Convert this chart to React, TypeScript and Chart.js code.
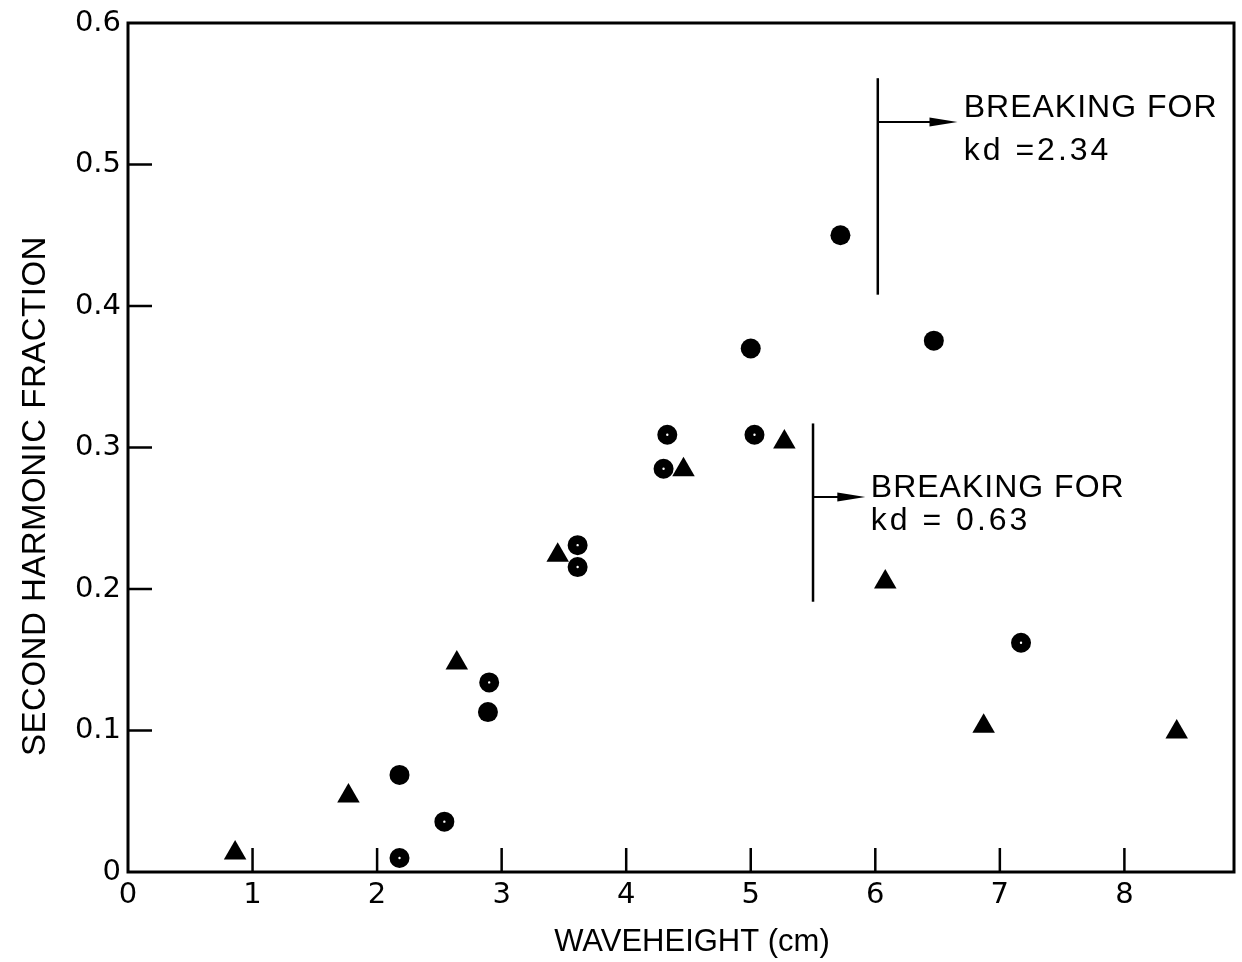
import React, { useEffect, useRef } from "react";
import { Chart, registerables } from "chart.js";

Chart.register(...registerables);

// ---- data ----
const SOLID_CIRCLES_X = [5.72, 6.47, 5.0, 2.89, 2.18];
const SOLID_CIRCLES_Y = [0.45, 0.3755, 0.37, 0.113, 0.0686];

const DOTTED_CIRCLES_X = [4.33, 4.3, 5.03, 3.61, 3.61, 2.9, 2.54, 2.18, 7.17];
const DOTTED_CIRCLES_Y = [0.309, 0.285, 0.309, 0.231, 0.2155, 0.134, 0.0356, 0.0099, 0.162];

const TRIANGLES_X = [0.86, 1.77, 2.64, 3.45, 4.46, 5.27, 6.08, 6.87, 8.42];
const TRIANGLES_Y = [0.0134, 0.0537, 0.1477, 0.2238, 0.2843, 0.3039, 0.205, 0.103, 0.099];

const X_TICKS = [0, 1, 2, 3, 4, 5, 6, 7, 8];
const X_TICK_LABELS = ["0", "1", "2", "3", "4", "5", "6", "7", "8"];
const Y_TICKS = [0, 0.1, 0.2, 0.3, 0.4, 0.5, 0.6];
const Y_TICK_LABELS = ["0", "0.1", "0.2", "0.3", "0.4", "0.5", "0.6"];
const X_MARKS = [1, 2, 3, 4, 5, 6, 7, 8];
const Y_MARKS = [0.1, 0.2, 0.3, 0.4, 0.5];

const X_TITLE = "WAVEHEIGHT (cm)";
const Y_TITLE = "SECOND HARMONIC FRACTION";

// breaking limits: vertical line at x, from yLow to yHigh, arrow at arrowY to arrowEnd
const BREAK_X = [6.02, 5.5];
const BREAK_Y_LOW = [0.408, 0.191];
const BREAK_Y_HIGH = [0.561, 0.317];
const BREAK_ARROW_Y = [0.53, 0.265];
const BREAK_ARROW_END = [6.66, 5.92];
const BREAK_TEXT_LINE1 = ["BREAKING FOR", "BREAKING FOR"];
const BREAK_TEXT_LINE2 = ["kd =2.34", "kd = 0.63"];
const BREAK_TEXT_X = [6.71, 5.964];
const BREAK_TEXT_Y1 = [0.5336, 0.265];
const BREAK_TEXT_Y2 = [0.5032, 0.2417];

const FONT = "'Liberation Sans', Arial, sans-serif";
const TICK_FONT = "'DejaVu Sans', sans-serif";

const toPoints = (xs: number[], ys: number[]) => xs.map((x, i) => ({ x, y: ys[i] }));

const decorPlugin = {
  id: "decor",
  afterDraw(chart: any) {
    const { ctx, chartArea, scales } = chart;
    const xs = scales.x;
    const ys = scales.y;
    ctx.save();
    ctx.strokeStyle = "#000";
    ctx.fillStyle = "#000";

    // frame
    ctx.lineWidth = 3;
    ctx.strokeRect(chartArea.left, chartArea.top, chartArea.right - chartArea.left, chartArea.bottom - chartArea.top);

    // inward tick marks
    ctx.lineWidth = 2.5;
    ctx.beginPath();
    X_MARKS.forEach((v) => {
      const px = xs.getPixelForValue(v);
      ctx.moveTo(px, chartArea.bottom);
      ctx.lineTo(px, chartArea.bottom - 24);
    });
    Y_MARKS.forEach((v) => {
      const py = ys.getPixelForValue(v);
      ctx.moveTo(chartArea.left, py);
      ctx.lineTo(chartArea.left + 24, py);
    });
    ctx.stroke();

    // breaking annotations
    BREAK_X.forEach((bx, i) => {
      const px = xs.getPixelForValue(bx);
      const yLo = ys.getPixelForValue(BREAK_Y_LOW[i]);
      const yHi = ys.getPixelForValue(BREAK_Y_HIGH[i]);
      const ay = ys.getPixelForValue(BREAK_ARROW_Y[i]);
      const ax = xs.getPixelForValue(BREAK_ARROW_END[i]);
      ctx.lineWidth = 2.5;
      ctx.beginPath();
      ctx.moveTo(px, yHi);
      ctx.lineTo(px, yLo);
      ctx.stroke();
      ctx.lineWidth = 2;
      ctx.beginPath();
      ctx.moveTo(px, ay);
      ctx.lineTo(ax - 20, ay);
      ctx.stroke();
      ctx.beginPath();
      ctx.moveTo(ax, ay);
      ctx.lineTo(ax - 28, ay - 4.5);
      ctx.lineTo(ax - 28, ay + 4.5);
      ctx.closePath();
      ctx.fill();

      ctx.font = `32px ${FONT}`;
      ctx.textAlign = "left";
      ctx.textBaseline = "alphabetic";
      (ctx as any).letterSpacing = "1px";
      const tx = xs.getPixelForValue(BREAK_TEXT_X[i]);
      ctx.fillText(BREAK_TEXT_LINE1[i], tx, ys.getPixelForValue(BREAK_TEXT_Y1[i]));
      (ctx as any).letterSpacing = "3px";
      ctx.fillText(BREAK_TEXT_LINE2[i], tx, ys.getPixelForValue(BREAK_TEXT_Y2[i]));
      (ctx as any).letterSpacing = "0px";
    });

    // axis titles
    ctx.font = `31px ${FONT}`;
    ctx.textAlign = "center";
    ctx.textBaseline = "middle";
    ctx.fillText(X_TITLE, 692, 942);
    ctx.save();
    ctx.translate(36, 496);
    ctx.rotate(-Math.PI / 2);
    ctx.font = `33px ${FONT}`;
    (ctx as any).letterSpacing = "0.5px";
    ctx.fillText(Y_TITLE, 0, 0);
    ctx.restore();

    ctx.restore();
  },
};

export default function App() {
  const canvasRef = useRef<HTMLCanvasElement | null>(null);

  useEffect(() => {
    document.body.style.margin = "0";
    const canvas = canvasRef.current;
    if (!canvas) return;
    const chart = new Chart(canvas, {
      type: "scatter",
      data: {
        datasets: [
          {
            label: "solid circles",
            data: toPoints(SOLID_CIRCLES_X, SOLID_CIRCLES_Y),
            pointStyle: "circle",
            pointRadius: 10,
            pointBackgroundColor: "#000",
            pointBorderColor: "#000",
            pointBorderWidth: 0,
          },
          {
            label: "dotted circles",
            data: toPoints(DOTTED_CIRCLES_X, DOTTED_CIRCLES_Y),
            pointStyle: "circle",
            pointRadius: 5.6,
            pointBackgroundColor: "#fff",
            pointBorderColor: "#000",
            pointBorderWidth: 8.8,
          },
          {
            label: "triangles",
            data: toPoints(TRIANGLES_X, TRIANGLES_Y),
            pointStyle: "triangle",
            pointRadius: 13,
            pointBackgroundColor: "#000",
            pointBorderColor: "#000",
            pointBorderWidth: 0,
          },
        ],
      },
      options: {
        responsive: false,
        animation: false,
        devicePixelRatio: 1,
        layout: { autoPadding: false, padding: { top: 23, right: 8, left: 0, bottom: 0 } },
        plugins: {
          legend: { display: false },
          tooltip: { enabled: false },
        },
        scales: {
          x: {
            type: "linear",
            min: 0,
            max: 8.88,
            afterBuildTicks: (s: any) => {
              s.ticks = X_TICKS.map((v) => ({ value: v }));
            },
            afterFit: (s: any) => {
              s.height = 90;
              s.paddingLeft = 0;
              s.paddingRight = 0;
            },
            ticks: {
              callback: (_v: any, i: number) => X_TICK_LABELS[i],
              color: "#000",
              font: { family: TICK_FONT, size: 29 },
              padding: 6,
              maxRotation: 0,
              autoSkip: false,
            },
            grid: { display: false, drawTicks: false },
            border: { display: false },
          },
          y: {
            type: "linear",
            min: 0,
            max: 0.6,
            afterBuildTicks: (s: any) => {
              s.ticks = Y_TICKS.map((v) => ({ value: v }));
            },
            afterFit: (s: any) => {
              s.width = 128;
              s.paddingTop = 0;
              s.paddingBottom = 0;
            },
            ticks: {
              callback: (_v: any, i: number) => Y_TICK_LABELS[i],
              color: "#000",
              font: { family: TICK_FONT, size: 29 },
              padding: 7,
              autoSkip: false,
            },
            grid: { display: false, drawTicks: false },
            border: { display: false },
          },
        },
      },
      plugins: [decorPlugin],
    } as any);
    return () => chart.destroy();
  }, []);

  return (
    <div style={{ position: "absolute", left: 0, top: 0, width: 1242, height: 962, background: "#fff" }}>
      <canvas ref={canvasRef} width={1242} height={962} />
    </div>
  );
}
